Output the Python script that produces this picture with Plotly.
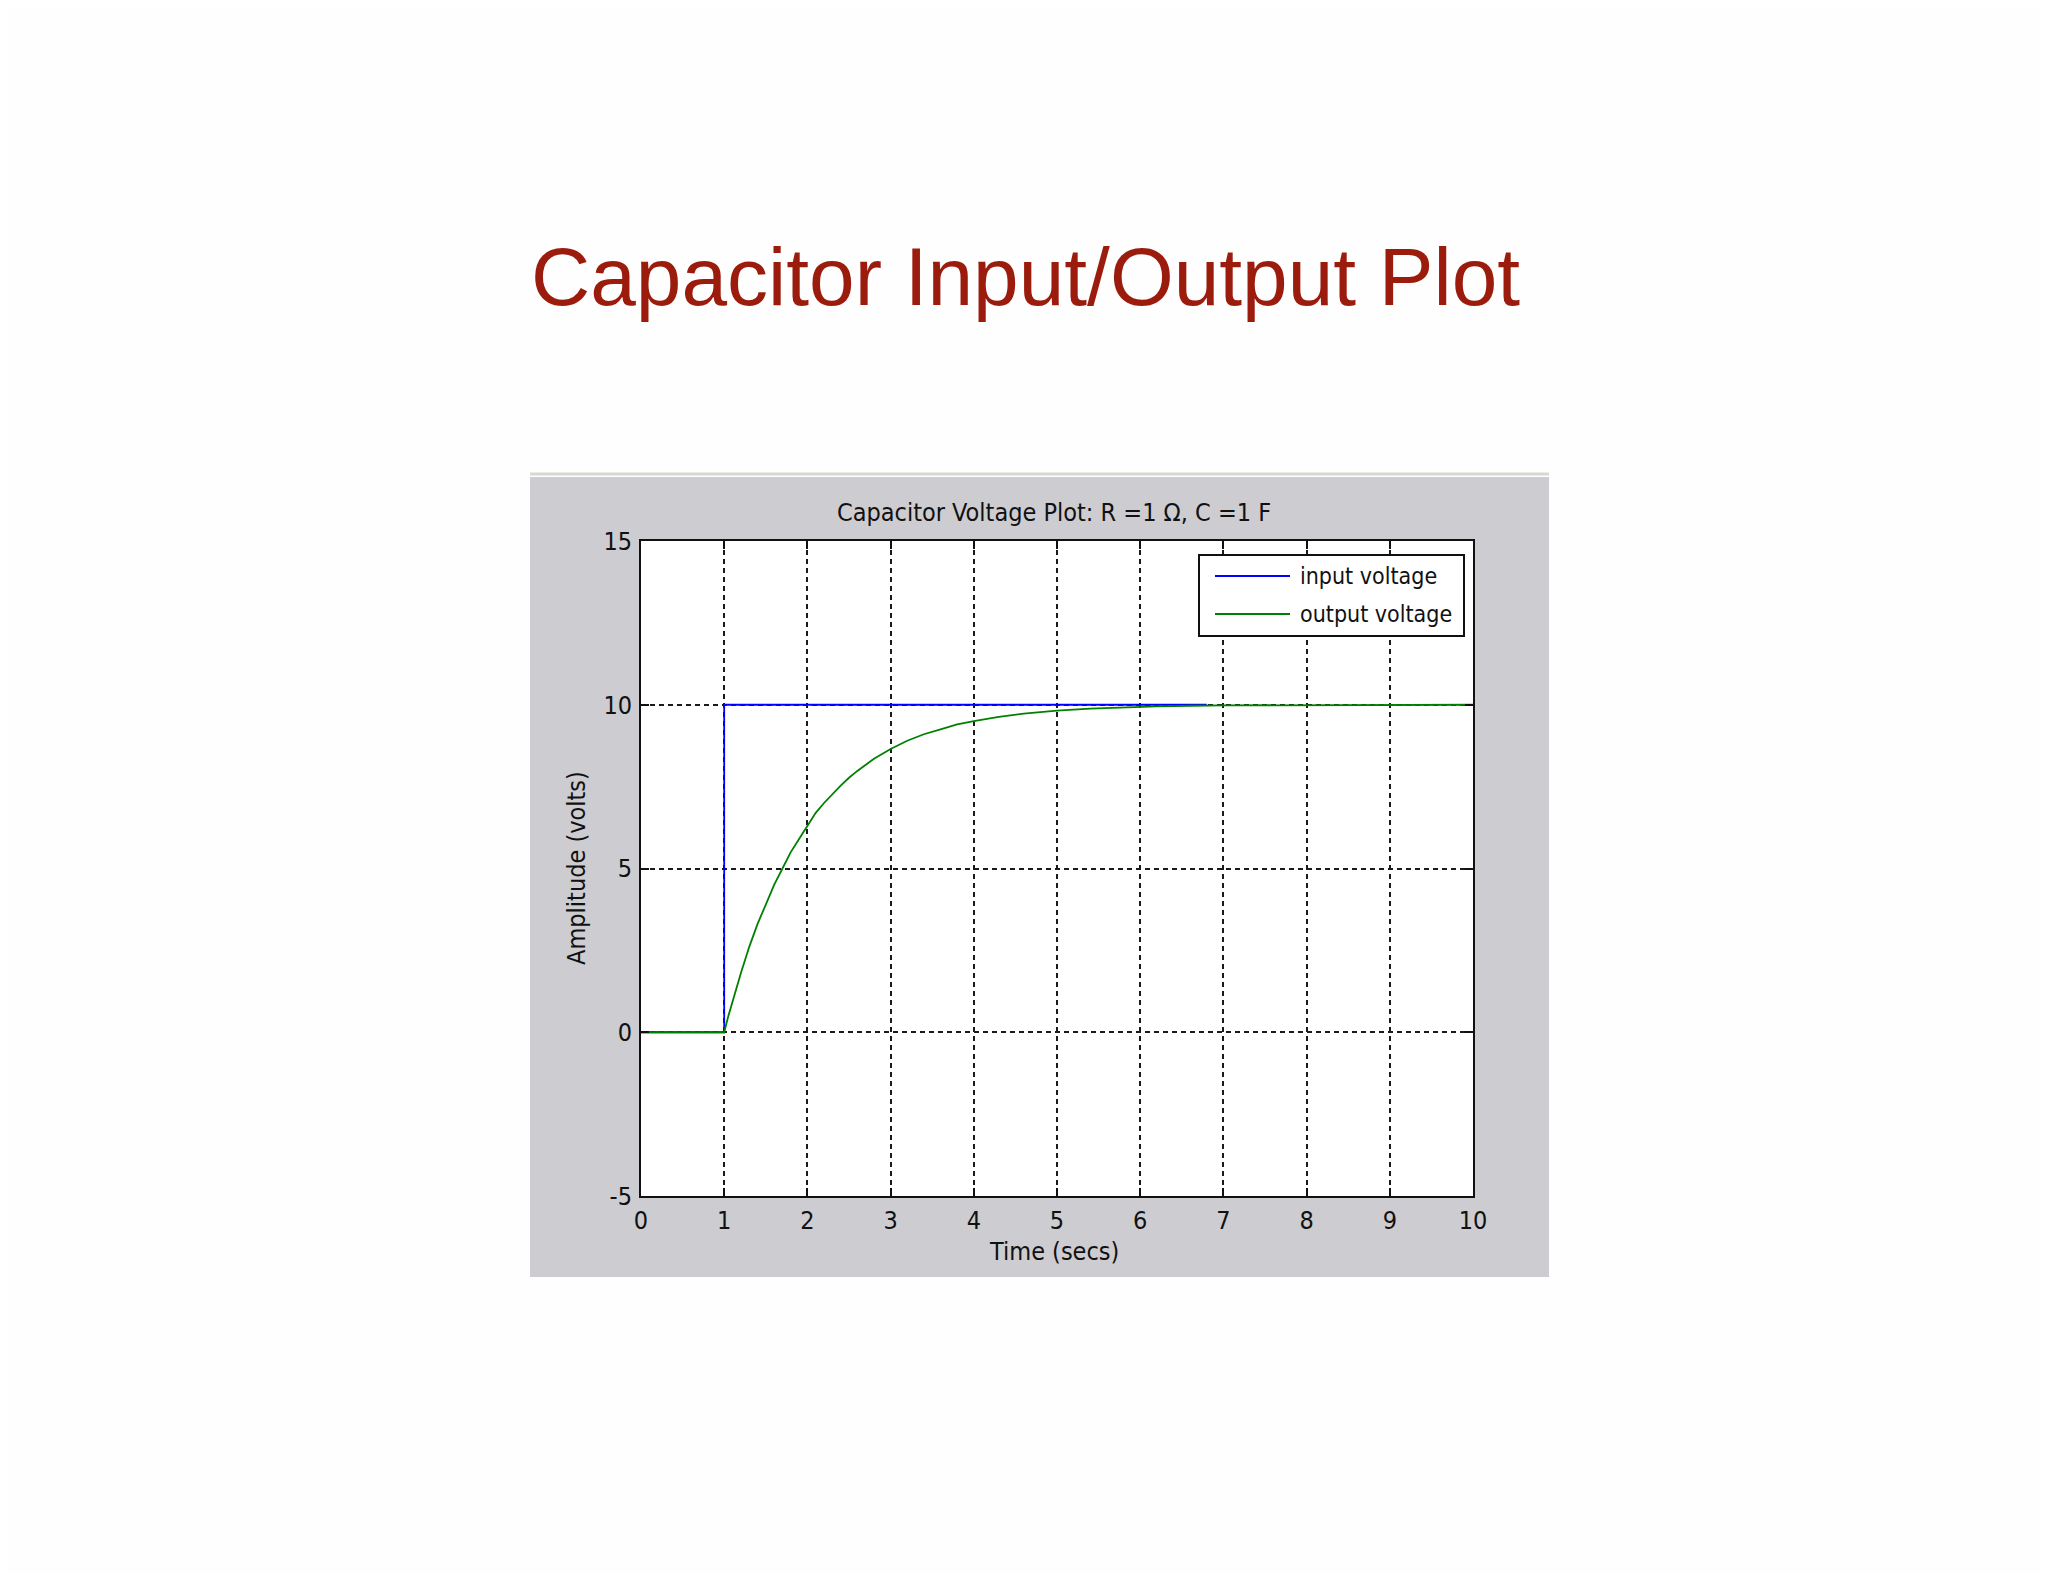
import plotly.graph_objects as go

# ---- data ----
t_in = [0, 1, 1, 6.8]
v_in = [0, 0, 10, 10]

t_out = [0, 1, 1.05, 1.1, 1.15, 1.2, 1.3, 1.4, 1.5, 1.6, 1.7, 1.8, 1.9, 2.0, 2.1,
         2.2, 2.3, 2.4, 2.5, 2.6, 2.8, 3.0, 3.2, 3.4, 3.6, 3.8, 4.0, 4.3, 4.6,
         5.0, 5.4, 5.8, 6.2, 6.6, 7.0, 10]
v_out = [0, 0, 0.5, 0.95, 1.4, 1.8, 2.6, 3.3, 3.9, 4.5, 5.0, 5.5, 5.9, 6.3, 6.7,
         7.0, 7.28, 7.53, 7.77, 7.98, 8.35, 8.65, 8.9, 9.1, 9.25, 9.4, 9.5, 9.63, 9.73,
         9.82, 9.88, 9.92, 9.95, 9.97, 9.98, 10.0]

x_ticks = [0, 1, 2, 3, 4, 5, 6, 7, 8, 9, 10]
x_tick_text = ["0", "1", "2", "3", "4", "5", "6", "7", "8", "9", "10"]
y_ticks = [-5, 0, 5, 10, 15]
y_tick_text = ["-5", "0", "5", "10", "15"]

page_title = "Capacitor Input/Output Plot"
axes_title = "Capacitor Voltage Plot: R =1 \u03a9, C =1 F"
x_label = "Time (secs)"
y_label = "Amplitude (volts)"
names = ["input voltage", "output voltage"]
colors = ["#0000FF", "#008000"]

# ---- geometry (pixels, page coordinates; body has an 8px margin) ----
OFF = 8
W, H = 2048 - 2 * OFF, 1582 - 2 * OFF
PL, PR, PT, PB = 641, 1473, 541, 1196
pw, ph = PR - PL, PB - PT


def px(x):
    return (x - PL) / pw


def py(y):
    return (PB - y) / ph


FONT = "Liberation Sans Narrow, Arial Narrow, DejaVu Sans Condensed, sans-serif"
INK = "#111111"

fig = go.Figure()
fig.add_trace(go.Scatter(x=t_in, y=v_in, mode="lines", name=names[0],
                         showlegend=False, line=dict(color=colors[0], width=1.8)))
fig.add_trace(go.Scatter(x=t_out, y=v_out, mode="lines", name=names[1],
                         showlegend=False, line=dict(color=colors[1], width=1.8)))

axis_common = dict(
    showline=True, linecolor=INK, linewidth=2, mirror="allticks",
    ticks="inside", ticklen=8, tickwidth=1.5, tickcolor=INK,
    showgrid=True, gridcolor="#1a1a1a", gridwidth=2, griddash="5px,4px",
    zeroline=False, tickfont=dict(family=FONT, size=25, color=INK),
)

# custom legend box (MATLAB style, long line samples)
LX0, LX1, LY0, LY1 = 1199, 1464, 555, 636
leg_rows = [576, 614]
shapes = [
    dict(type="rect", xref="paper", yref="paper", layer="below",
         x0=px(530), x1=px(1549), y0=py(1277), y1=py(477),
         fillcolor="#CDCCD0", line=dict(width=0)),
    dict(type="line", xref="paper", yref="paper", layer="below",
         x0=px(530), x1=px(1549), y0=py(474), y1=py(474),
         line=dict(color="#D8D8D2", width=3)),
    dict(type="rect", xref="paper", yref="paper", layer="below",
         x0=0, x1=1, y0=0, y1=1, fillcolor="#FFFFFF", line=dict(width=0)),
    dict(type="rect", xref="paper", yref="paper", layer="above",
         x0=px(LX0), x1=px(LX1), y0=py(LY1), y1=py(LY0),
         fillcolor="#FFFFFF", line=dict(color=INK, width=2)),
]
annotations = [
    dict(text=page_title, xref="paper", yref="paper", x=px(1025), y=py(277),
         xanchor="center", yanchor="middle", showarrow=False,
         font=dict(family="Liberation Sans, Arial, sans-serif", size=82,
                   color="#9B1B0C")),
    dict(text=axes_title, xref="paper", yref="paper", x=px(1054), y=py(512),
         xanchor="center", yanchor="middle", showarrow=False,
         font=dict(family=FONT, size=25, color=INK)),
    dict(text=x_label, xref="paper", yref="paper", x=px(1054), y=py(1251),
         xanchor="center", yanchor="middle", showarrow=False,
         font=dict(family=FONT, size=25, color=INK)),
    dict(text=y_label, xref="paper", yref="paper", x=px(576), y=py(868),
         xanchor="center", yanchor="middle", showarrow=False, textangle=-90,
         font=dict(family=FONT, size=25, color=INK)),
]
for name, col, ry in zip(names, colors, leg_rows):
    shapes.append(dict(type="line", xref="paper", yref="paper", layer="above",
                       x0=px(1215), x1=px(1290), y0=py(ry), y1=py(ry),
                       line=dict(color=col, width=1.8)))
    annotations.append(dict(text=name, xref="paper", yref="paper",
                            x=px(1298), y=py(ry), xanchor="left", yanchor="middle",
                            showarrow=False,
                            font=dict(family=FONT, size=23, color=INK)))

fig.update_layout(
    width=W, height=H,
    margin=dict(l=PL - OFF, r=W - (PR - OFF), t=PT - OFF, b=H - (PB - OFF), pad=0),
    paper_bgcolor="#FEFEFE", plot_bgcolor="rgba(0,0,0,0)",
    showlegend=False,
    xaxis=dict(range=[0, 10], tickvals=x_ticks, ticktext=x_tick_text,
               ticklabelstandoff=1, **axis_common),
    yaxis=dict(range=[-5, 15], tickvals=y_ticks, ticktext=y_tick_text,
               ticklabelstandoff=2, **axis_common),
    shapes=shapes,
    annotations=annotations,
)

fig.write_html("out.html")
